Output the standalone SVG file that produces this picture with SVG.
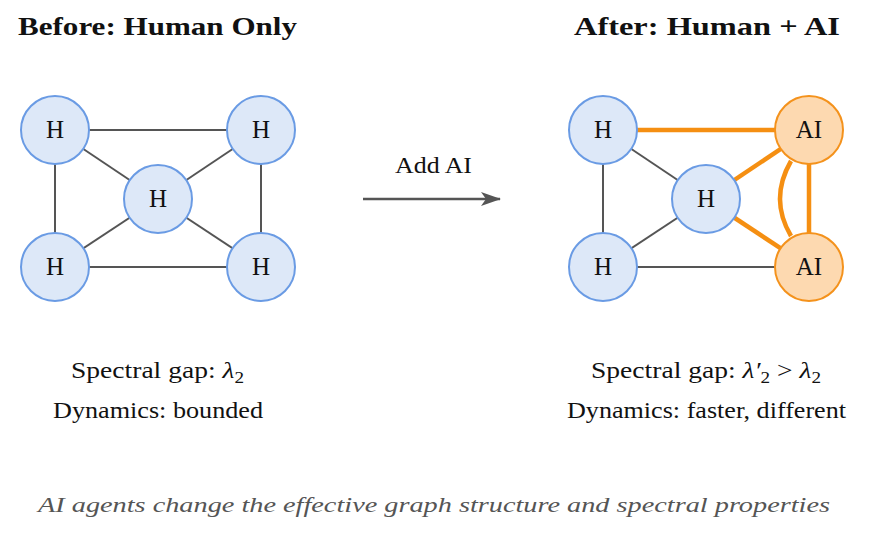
<svg xmlns="http://www.w3.org/2000/svg" width="872" height="537" viewBox="0 0 872 537">
<defs>
<style>
.t{font-family:"Liberation Serif","DejaVu Serif",serif;fill:#111;}
.title{font-size:26px;font-weight:bold;}
.lbl{font-size:25px;text-anchor:middle;}
.node-h{fill:#dde8f8;stroke:#6a9be4;stroke-width:2;}
.node-ai{fill:#fdd9b0;stroke:#f4921c;stroke-width:2;}
.e{stroke:#555;stroke-width:2;fill:none;}
.eo{stroke:#f58f12;stroke-width:4.5;fill:none;}
.txt{font-size:23px;}
.cap{font-size:22px;font-style:italic;fill:#555;}
</style>
<marker id="arr" viewBox="0 0 20 14" refX="19" refY="7" markerWidth="20" markerHeight="14" markerUnits="userSpaceOnUse" orient="auto">
<path d="M0,0 L20,7 L0,14 L5,7 Z" fill="#555"/>
</marker>
</defs>
<rect width="872" height="537" fill="#fff"/>

<text class="t title" x="18" y="35" textLength="279" lengthAdjust="spacingAndGlyphs">Before: Human Only</text>
<text class="t title" x="574" y="35" textLength="266" lengthAdjust="spacingAndGlyphs">After: Human + AI</text>

<g id="connectors">
<line class="e" x1="55" y1="130" x2="261" y2="130"/>
<line class="e" x1="55" y1="267" x2="261" y2="267"/>
<line class="e" x1="55" y1="130" x2="55" y2="267"/>
<line class="e" x1="261" y1="130" x2="261" y2="267"/>
<line class="e" x1="55" y1="130" x2="158" y2="199"/>
<line class="e" x1="261" y1="130" x2="158" y2="199"/>
<line class="e" x1="55" y1="267" x2="158" y2="199"/>
<line class="e" x1="261" y1="267" x2="158" y2="199"/>

<line class="e" x1="603" y1="130" x2="603" y2="267"/>
<line class="e" x1="603" y1="130" x2="706" y2="199"/>
<line class="e" x1="603" y1="267" x2="706" y2="199"/>
<line class="e" x1="603" y1="267" x2="809" y2="267"/>
<line class="eo" x1="603" y1="130" x2="809" y2="130"/>
<line class="eo" x1="706" y1="199" x2="809" y2="130"/>
<line class="eo" x1="706" y1="199" x2="809" y2="267"/>
<line class="eo" x1="809" y1="130" x2="809" y2="267"/>
<path class="eo" d="M791,161 Q769,199 791,236"/>

<line stroke="#555" stroke-width="2.5" x1="363" y1="199" x2="500" y2="199" marker-end="url(#arr)"/>
</g>
<text class="t txt" x="395" y="173" textLength="77" lengthAdjust="spacingAndGlyphs">Add AI</text>

<g id="n1"><circle class="node-h" cx="55" cy="130" r="34"/><text class="t lbl" x="55" y="138">H</text></g>
<g id="n2"><circle class="node-h" cx="261" cy="130" r="34"/><text class="t lbl" x="261" y="138">H</text></g>
<g id="n3"><circle class="node-h" cx="158" cy="199" r="34"/><text class="t lbl" x="158" y="207">H</text></g>
<g id="n4"><circle class="node-h" cx="55" cy="267" r="34"/><text class="t lbl" x="55" y="275">H</text></g>
<g id="n5"><circle class="node-h" cx="261" cy="267" r="34"/><text class="t lbl" x="261" y="275">H</text></g>

<g id="m1"><circle class="node-h" cx="603" cy="130" r="34"/><text class="t lbl" x="603" y="138">H</text></g>
<g id="m2"><circle class="node-ai" cx="809" cy="130" r="34"/><text class="t lbl" x="809" y="138">AI</text></g>
<g id="m3"><circle class="node-h" cx="706" cy="199" r="34"/><text class="t lbl" x="706" y="207">H</text></g>
<g id="m4"><circle class="node-h" cx="603" cy="267" r="34"/><text class="t lbl" x="603" y="275">H</text></g>
<g id="m5"><circle class="node-ai" cx="809" cy="267" r="34"/><text class="t lbl" x="809" y="275">AI</text></g>

<text class="t txt" x="71" y="378" textLength="173" lengthAdjust="spacingAndGlyphs">Spectral gap: <tspan font-style="italic">λ</tspan><tspan font-size="16" dy="5">2</tspan></text>
<text class="t txt" x="53" y="418" textLength="210" lengthAdjust="spacingAndGlyphs">Dynamics: bounded</text>
<text class="t txt" x="591" y="378" textLength="230" lengthAdjust="spacingAndGlyphs">Spectral gap: <tspan font-style="italic">λ′</tspan><tspan font-size="16" dy="5">2</tspan><tspan dy="-5"> &gt; </tspan><tspan font-style="italic">λ</tspan><tspan font-size="16" dy="5">2</tspan></text>
<text class="t txt" x="567" y="418" textLength="279" lengthAdjust="spacingAndGlyphs">Dynamics: faster, different</text>

<text class="t cap" x="38" y="512" textLength="792" lengthAdjust="spacingAndGlyphs">AI agents change the effective graph structure and spectral properties</text>
</svg>
